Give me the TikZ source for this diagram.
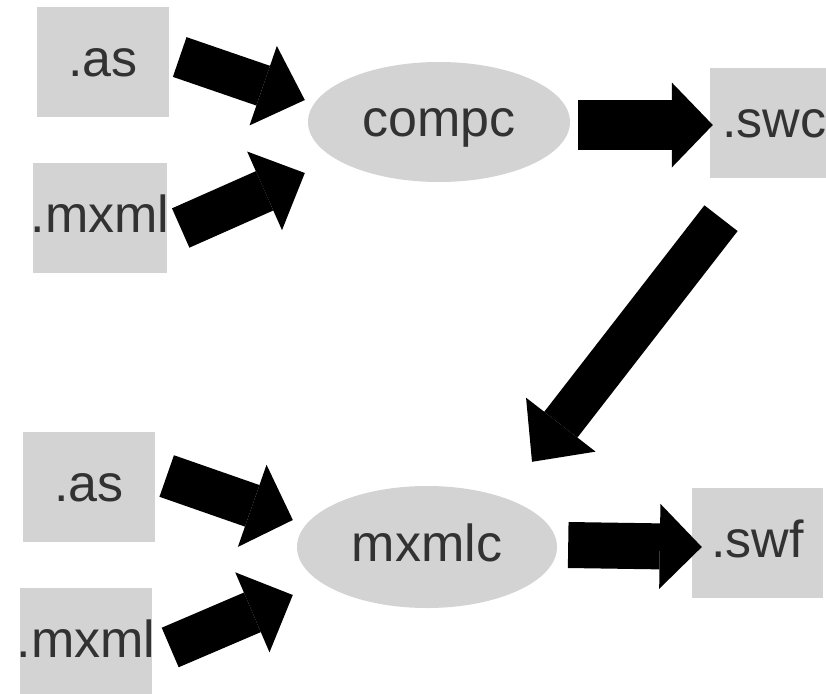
\documentclass[tikz,border=0pt]{standalone}
\usepackage{fontspec}
\setmainfont{Liberation Sans}
\usetikzlibrary{arrows.meta,calc,shapes.geometric}
\definecolor{boxgray}{RGB}{211,211,211}
\definecolor{txtgray}{RGB}{50,50,50}
\begin{document}
\begin{tikzpicture}[x=1pt,y=-1pt,
  file/.style={rectangle, fill=boxgray, minimum width=132pt, minimum height=110pt,
    inner sep=0pt, text=txtgray, font=\fontsize{52}{60}\selectfont,
    text height=37pt, text depth=9pt},
  proc/.style={ellipse, fill=boxgray, inner sep=0pt, text=txtgray,
    font=\fontsize{52}{60}\selectfont, text height=37pt, text depth=9pt},
  blk/.style args={#1/#2/#3}{draw=black, line width=#1,
    -{Triangle[length=#3, width=#2, line width=0pt]}}
]
\useasboundingbox (0,0) rectangle (826,693);
\clip (0,0) rectangle (826,693);
\fill[white] (0,0) rectangle (826,693);
% nodes
\node[file] (as1) at (103,62) {.as};
\node[file, minimum width=134pt] (mx1) at (100,218) {\makebox[0pt]{.mxml}};
\node[proc, minimum width=262pt, minimum height=120pt] (compc) at (439,122) {compc};
\node[file, minimum width=128pt] (swc) at (774,123) {.swc};
\node[file] (as2) at (89,487) {.as};
\node[file] (mx2) at (86,643) {\makebox[0pt]{.mxml}};
\node[proc, minimum width=260pt, minimum height=122pt] (mxmlc) at (427,547) {mxmlc};
\node[file, minimum width=131pt] (swf) at (757.5,543) {.swf};
% block arrows
\draw[blk={42pt/84pt/44pt}] ($(as1.east)+(10.5,-5)$) -- ($(compc.west)+(-3,-22)$);
\draw[blk={43pt/86pt/44pt}] ($(mx1.east)+(13.5,10)$) -- ($(compc.west)+(-3,51)$);
\draw[blk={50pt/85pt/41pt}] ($(compc.east)+(8,3)$) -- ($(swc.west)+(3,2)$);
\draw[blk={42pt/88pt/47pt}] ($(swc.south)+(-53,40)$) -- ($(mxmlc.north)+(105,-24)$);
\draw[blk={44pt/87pt/43pt}] ($(as2.east)+(11.5,-11)$) -- ($(mxmlc.west)+(-4,-27)$);
\draw[blk={43pt/87pt/44pt}] ($(mx2.east)+(18,4.5)$) -- ($(mxmlc.west)+(-4,48)$);
\draw[blk={46pt/85pt/42pt}] ($(mxmlc.east)+(11,-2)$) -- ($(swf.west)+(10,4)$);
\end{tikzpicture}
\end{document}
